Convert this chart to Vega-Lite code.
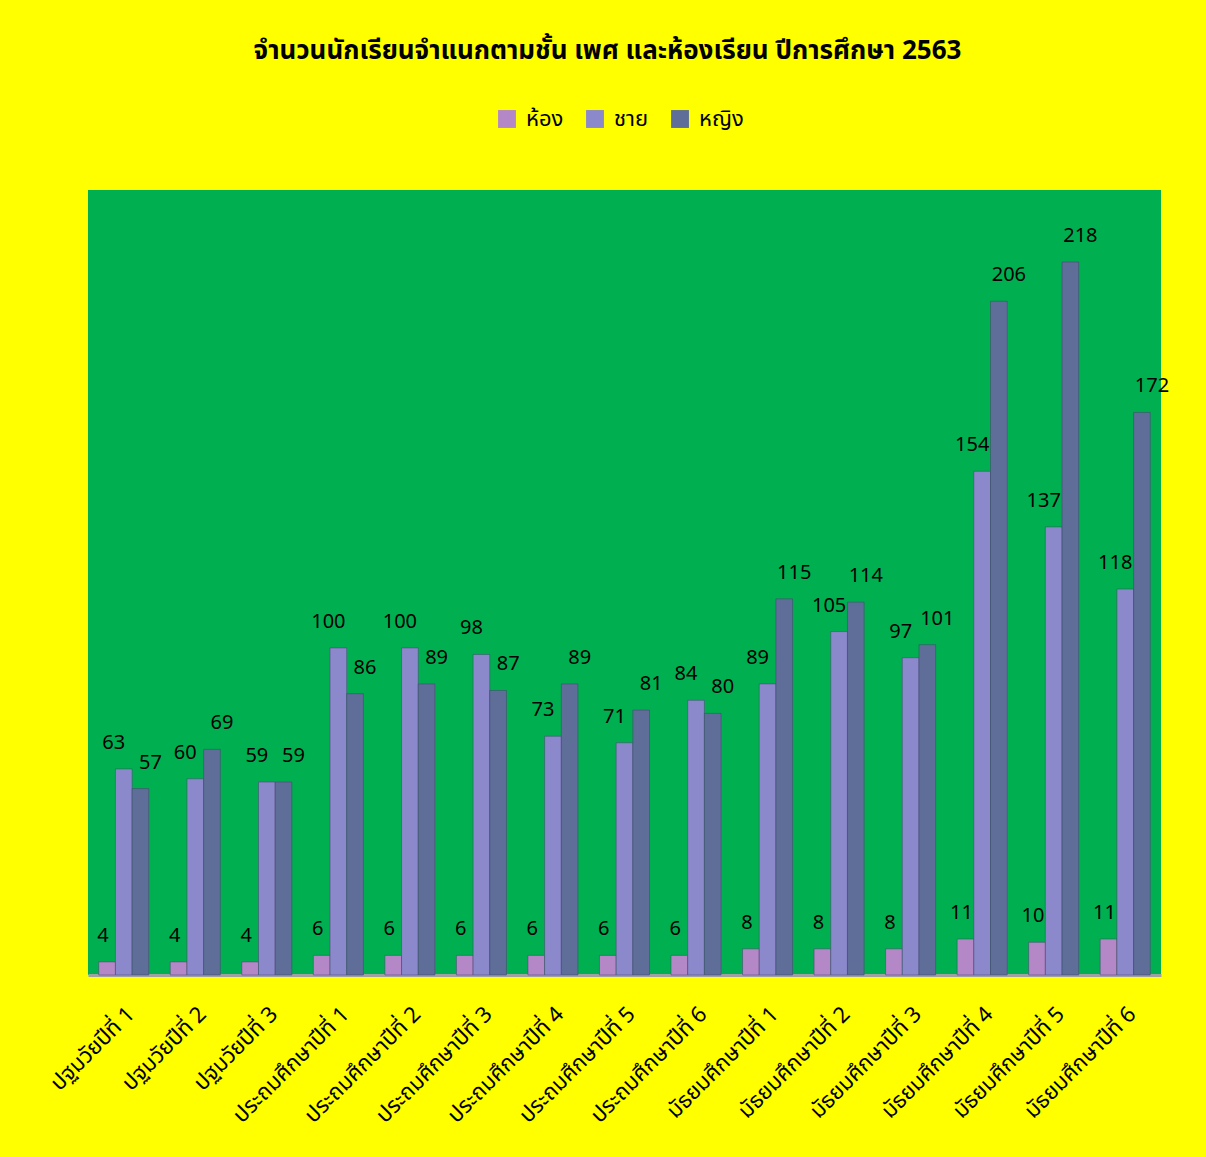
{
  "$schema": "https://vega.github.io/schema/vega-lite/v6.json",
  "width": 1073,
  "height": 785,
  "autosize": {"type": "none"},
  "padding": {"left": 88, "top": 190, "right": 45, "bottom": 182},
  "background": "#FFFF00",
  "config": {
    "font": "Tahoma, 'Noto Sans Thai', 'Noto Sans', 'DejaVu Sans', sans-serif",
    "view": {"fill": "#00B050", "stroke": null}
  },
  "title": {
    "text": "จำนวนนักเรียนจำแนกตามชั้น เพศ และห้องเรียน ปีการศึกษา 2563",
    "fontSize": 26,
    "fontWeight": "bold",
    "color": "#000000",
    "anchor": "middle",
    "offset": 44,
    "dx": -17
  },
  "data": {
    "values": [
      {"grade": "ปฐมวัยปีที่ 1", "series": "ห้อง", "value": 4},
      {"grade": "ปฐมวัยปีที่ 1", "series": "ชาย", "value": 63},
      {"grade": "ปฐมวัยปีที่ 1", "series": "หญิง", "value": 57},
      {"grade": "ปฐมวัยปีที่ 2", "series": "ห้อง", "value": 4},
      {"grade": "ปฐมวัยปีที่ 2", "series": "ชาย", "value": 60},
      {"grade": "ปฐมวัยปีที่ 2", "series": "หญิง", "value": 69},
      {"grade": "ปฐมวัยปีที่ 3", "series": "ห้อง", "value": 4},
      {"grade": "ปฐมวัยปีที่ 3", "series": "ชาย", "value": 59},
      {"grade": "ปฐมวัยปีที่ 3", "series": "หญิง", "value": 59},
      {"grade": "ประถมศึกษาปีที่ 1", "series": "ห้อง", "value": 6},
      {"grade": "ประถมศึกษาปีที่ 1", "series": "ชาย", "value": 100},
      {"grade": "ประถมศึกษาปีที่ 1", "series": "หญิง", "value": 86},
      {"grade": "ประถมศึกษาปีที่ 2", "series": "ห้อง", "value": 6},
      {"grade": "ประถมศึกษาปีที่ 2", "series": "ชาย", "value": 100},
      {"grade": "ประถมศึกษาปีที่ 2", "series": "หญิง", "value": 89},
      {"grade": "ประถมศึกษาปีที่ 3", "series": "ห้อง", "value": 6},
      {"grade": "ประถมศึกษาปีที่ 3", "series": "ชาย", "value": 98},
      {"grade": "ประถมศึกษาปีที่ 3", "series": "หญิง", "value": 87},
      {"grade": "ประถมศึกษาปีที่ 4", "series": "ห้อง", "value": 6},
      {"grade": "ประถมศึกษาปีที่ 4", "series": "ชาย", "value": 73},
      {"grade": "ประถมศึกษาปีที่ 4", "series": "หญิง", "value": 89},
      {"grade": "ประถมศึกษาปีที่ 5", "series": "ห้อง", "value": 6},
      {"grade": "ประถมศึกษาปีที่ 5", "series": "ชาย", "value": 71},
      {"grade": "ประถมศึกษาปีที่ 5", "series": "หญิง", "value": 81},
      {"grade": "ประถมศึกษาปีที่ 6", "series": "ห้อง", "value": 6},
      {"grade": "ประถมศึกษาปีที่ 6", "series": "ชาย", "value": 84},
      {"grade": "ประถมศึกษาปีที่ 6", "series": "หญิง", "value": 80},
      {"grade": "มัธยมศึกษาปีที่ 1", "series": "ห้อง", "value": 8},
      {"grade": "มัธยมศึกษาปีที่ 1", "series": "ชาย", "value": 89},
      {"grade": "มัธยมศึกษาปีที่ 1", "series": "หญิง", "value": 115},
      {"grade": "มัธยมศึกษาปีที่ 2", "series": "ห้อง", "value": 8},
      {"grade": "มัธยมศึกษาปีที่ 2", "series": "ชาย", "value": 105},
      {"grade": "มัธยมศึกษาปีที่ 2", "series": "หญิง", "value": 114},
      {"grade": "มัธยมศึกษาปีที่ 3", "series": "ห้อง", "value": 8},
      {"grade": "มัธยมศึกษาปีที่ 3", "series": "ชาย", "value": 97},
      {"grade": "มัธยมศึกษาปีที่ 3", "series": "หญิง", "value": 101},
      {"grade": "มัธยมศึกษาปีที่ 4", "series": "ห้อง", "value": 11},
      {"grade": "มัธยมศึกษาปีที่ 4", "series": "ชาย", "value": 154},
      {"grade": "มัธยมศึกษาปีที่ 4", "series": "หญิง", "value": 206},
      {"grade": "มัธยมศึกษาปีที่ 5", "series": "ห้อง", "value": 10},
      {"grade": "มัธยมศึกษาปีที่ 5", "series": "ชาย", "value": 137},
      {"grade": "มัธยมศึกษาปีที่ 5", "series": "หญิง", "value": 218},
      {"grade": "มัธยมศึกษาปีที่ 6", "series": "ห้อง", "value": 11},
      {"grade": "มัธยมศึกษาปีที่ 6", "series": "ชาย", "value": 118},
      {"grade": "มัธยมศึกษาปีที่ 6", "series": "หญิง", "value": 172}
    ]
  },
  "encoding": {
    "x": {
      "field": "grade",
      "type": "nominal",
      "sort": null,
      "title": null,
      "scale": {"paddingInner": 0.3, "paddingOuter": 0.15},
      "axis": {
        "labelAngle": -45,
        "labelFontSize": 22,
        "labelColor": "#000000",
        "labelPadding": 28,
        "labelLimit": 300,
        "ticks": false,
        "domainColor": "#A0A0A0",
        "domainWidth": 3
      }
    },
    "xOffset": {
      "field": "series",
      "type": "nominal",
      "sort": ["ห้อง", "ชาย", "หญิง"],
      "scale": {"paddingInner": 0}
    },
    "y": {
      "field": "value",
      "type": "quantitative",
      "scale": {"domain": [0, 240], "nice": false},
      "axis": null
    }
  },
  "layer": [
    {
      "mark": {"type": "bar", "stroke": "#3E4766", "strokeWidth": 0.5},
      "encoding": {
        "color": {
          "field": "series",
          "type": "nominal",
          "sort": ["ห้อง", "ชาย", "หญิง"],
          "scale": {
            "domain": ["ห้อง", "ชาย", "หญิง"],
            "range": ["#B487C7", "#8C88CC", "#5E6E98"]
          },
          "legend": {
            "title": null,
            "orient": "none",
            "direction": "horizontal",
            "legendX": 408,
            "legendY": -82,
            "symbolType": "square",
            "symbolSize": 320,
            "symbolStrokeWidth": 0,
            "labelFontSize": 22,
            "labelColor": "#000000",
            "columnPadding": 20,
            "labelOffset": 8
          }
        }
      }
    },
    {
      "transform": [{"filter": "datum.series === 'ห้อง'"}],
      "mark": {"type": "text", "fontSize": 20, "color": "#000000", "dy": -16, "dx": -4, "baseline": "bottom"},
      "encoding": {
        "text": {"field": "value", "type": "quantitative"}
      }
    },
    {
      "transform": [{"filter": "datum.series === 'ชาย'"}],
      "mark": {"type": "text", "fontSize": 20, "color": "#000000", "dy": -16, "dx": -10, "baseline": "bottom"},
      "encoding": {
        "text": {"field": "value", "type": "quantitative"}
      }
    },
    {
      "transform": [{"filter": "datum.series === 'หญิง'"}],
      "mark": {"type": "text", "fontSize": 20, "color": "#000000", "dy": -16, "dx": 10, "baseline": "bottom"},
      "encoding": {
        "text": {"field": "value", "type": "quantitative"}
      }
    }
  ]
}
